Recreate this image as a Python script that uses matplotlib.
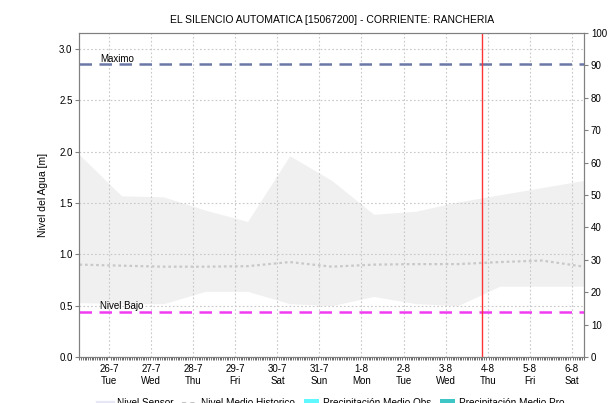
import datetime as dt

import matplotlib
matplotlib.use("Agg")
import matplotlib.pyplot as plt
import matplotlib.dates as mdates
from matplotlib.lines import Line2D
from matplotlib.patches import Patch
from matplotlib.ticker import FuncFormatter, MultipleLocator

plt.rcParams["font.family"] = ["Liberation Sans", "DejaVu Sans"]
plt.rcParams["font.size"] = 7

# daily readings at 07:00, 25-7 to 6-8
start = dt.datetime(2016, 7, 25, 7, 0)
fechas = [start + dt.timedelta(days=i) for i in range(13)]

hist_max = [1.97, 1.57, 1.56, 1.43, 1.32, 1.96, 1.72, 1.39, 1.42, 1.51, 1.58, 1.65, 1.72]
hist_min = [0.53, 0.52, 0.52, 0.64, 0.64, 0.52, 0.50, 0.59, 0.52, 0.50, 0.69, 0.69, 0.69]
nivel_medio = [0.90, 0.89, 0.88, 0.88, 0.885, 0.925, 0.88, 0.90, 0.905, 0.905, 0.925, 0.94, 0.88]

nivel_maximo = 2.85
nivel_bajo = 0.44
ahora = dt.datetime(2016, 8, 3, 21, 0)

titulo = "EL SILENCIO AUTOMATICA [15067200] - CORRIENTE: RANCHERIA"

fig = plt.figure(figsize=(6.16, 4.03), dpi=100)
ax = fig.add_axes([0.129, 0.114, 0.819, 0.804])

ax.fill_between(fechas, hist_min, hist_max, color="#f0f0f0", lw=0, zorder=1)
ax.plot(fechas, nivel_medio, color="#c8c8c8", lw=1.6, ls=(0, (1.2, 1.3)),
        dash_capstyle="butt", zorder=2)

ax.axhline(nivel_maximo, color="#6b78a6", lw=1.8, ls=(0, (5, 3)), zorder=3)
ax.axhline(nivel_bajo, color="#f03cf0", lw=1.8, ls=(0, (5, 3)), zorder=3)
ax.axvline(ahora, color="#ff3333", lw=1, zorder=4)

tr = ax.get_yaxis_transform()
ax.text(0.041, nivel_maximo + 0.005, "Maximo", transform=tr, fontsize=7, va="bottom")
ax.text(0.041, nivel_bajo + 0.005, "Nivel Bajo", transform=tr, fontsize=7, va="bottom")

ax.set_xlim(fechas[0], fechas[-1])
ax.set_ylim(0, 3.155)
ax.yaxis.set_major_locator(MultipleLocator(0.5))
ax.yaxis.set_major_formatter(FuncFormatter(lambda v, p: f"{v:.1f}"))

ax.xaxis.set_major_locator(mdates.DayLocator())
ax.xaxis.set_minor_locator(mdates.HourLocator())
ax.xaxis.set_major_formatter(FuncFormatter(
    lambda v, p: "{0.day}-{0.month}\n{0:%a}".format(mdates.num2date(v))))

ax.grid(True, which="major", color="#c8c8c8", ls=(0, (1.5, 2)), lw=0.8)
ax.tick_params(axis="x", which="major", length=0, pad=5)
ax.tick_params(axis="x", which="minor", length=2.5, width=0.6, color="#555555")
ax.tick_params(axis="y", length=3, width=0.8, color="#808080", pad=2)
for s in ax.spines.values():
    s.set_color("#808080")

ax.set_ylabel("Nivel del Agua [m]", fontsize=7.5, labelpad=8)
ax.set_title(titulo, fontsize=7.5, pad=7)

ax2 = ax.twinx()
ax2.set_ylim(0, 100)
ax2.yaxis.set_major_locator(MultipleLocator(10))
ax2.tick_params(axis="y", length=3, width=0.8, color="#808080", pad=2)
for s in ax2.spines.values():
    s.set_color("#808080")
ax2.set_ylabel("Precipitación [mm]", fontsize=7.5, rotation=-90, labelpad=10, va="bottom")

handles = [
    Line2D([], [], color="#e6e6f6", lw=3),
    Line2D([], [], color="#c4c4c4", lw=1.5, ls=(0, (2, 2))),
    Patch(facecolor="#5ff8ff", edgecolor="none"),
    Patch(facecolor="#3ec6c6", edgecolor="none"),
]
labels = ["Nivel Sensor", "Nivel Medio Historico",
          "Precipitación Medio Obs", "Precipitación Medio Pro"]
fig.legend(handles, labels, loc="center", bbox_to_anchor=(0.538, 0.0),
           ncol=4, frameon=False, fontsize=7.2, handlelength=1.5,
           handletextpad=0.4, columnspacing=0.9)

fig.savefig("out.png", dpi=100)
